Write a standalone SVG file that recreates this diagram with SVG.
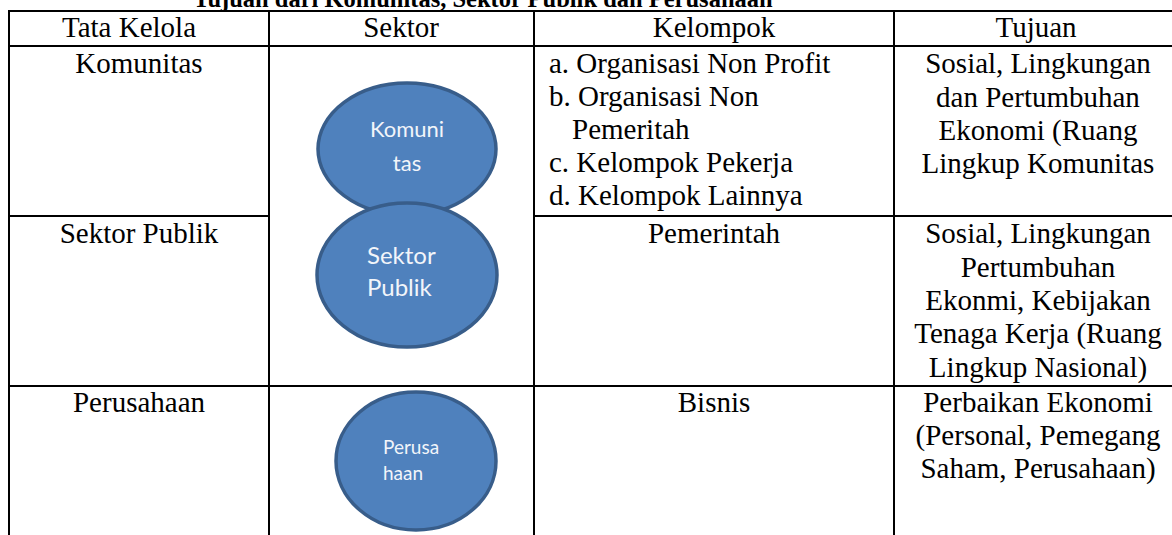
<svg xmlns="http://www.w3.org/2000/svg" width="1172" height="535" viewBox="0 0 1172 535">
<style>
.t{font-family:"Liberation Serif","Times New Roman",serif;font-size:29px;fill:#000}
.c{text-anchor:middle}
.title{font-family:"Liberation Serif","Times New Roman",serif;font-size:24.5px;font-weight:bold;text-anchor:middle;fill:#000}
.grid{stroke:#000;stroke-width:2;fill:none}
.oval{fill:#4f81bd;stroke:#385d8a;stroke-width:3.5}
.ot{font-family:Lato,"Open Sans",sans-serif;fill:#f2f5fa}
</style>
<rect width="1172" height="535" fill="#fff"/>
<text class="title" x="483" y="7">Tujuan dari Komunitas, Sektor Publik dan Perusahaan</text>
<g id="grid" class="grid">
<line x1="9" y1="11" x2="1172" y2="11"/>
<line x1="9" y1="46" x2="1172" y2="46"/>
<line x1="9" y1="216" x2="269" y2="216"/>
<line x1="534" y1="216" x2="1172" y2="216"/>
<line x1="9" y1="386" x2="1172" y2="386"/>
<line x1="9" y1="10" x2="9" y2="535"/>
<line x1="269" y1="10" x2="269" y2="535"/>
<line x1="534" y1="10" x2="534" y2="535"/>
<line x1="894" y1="10" x2="894" y2="535"/>
</g>
<g id="header">
<text class="t c" x="129" y="37">Tata Kelola</text>
<text class="t c" x="401" y="37">Sektor</text>
<text class="t c" x="714" y="37">Kelompok</text>
<text class="t c" x="1036" y="37">Tujuan</text>
</g>
<g id="row-komunitas">
<text class="t c" x="139" y="73">Komunitas</text>
<text class="t" x="549" y="73">a. Organisasi Non Profit</text>
<text class="t" x="549" y="106">b. Organisasi Non</text>
<text class="t" x="572" y="139">Pemeritah</text>
<text class="t" x="549" y="172">c. Kelompok Pekerja</text>
<text class="t" x="549" y="205">d. Kelompok Lainnya</text>
<text class="t c" x="1038" y="73">Sosial, Lingkungan</text>
<text class="t c" x="1038" y="107">dan Pertumbuhan</text>
<text class="t c" x="1038" y="140">Ekonomi (Ruang</text>
<text class="t c" x="1038" y="173">Lingkup Komunitas</text>
</g>
<g id="row-sektor-publik">
<text class="t c" x="139" y="243">Sektor Publik</text>
<text class="t c" x="714" y="243">Pemerintah</text>
<text class="t c" x="1038" y="243">Sosial, Lingkungan</text>
<text class="t c" x="1038" y="277">Pertumbuhan</text>
<text class="t c" x="1038" y="310">Ekonmi, Kebijakan</text>
<text class="t c" x="1038" y="343">Tenaga Kerja (Ruang</text>
<text class="t c" x="1038" y="377">Lingkup Nasional)</text>
</g>
<g id="row-perusahaan">
<text class="t c" x="139" y="412">Perusahaan</text>
<text class="t c" x="714" y="412">Bisnis</text>
<text class="t c" x="1038" y="412">Perbaikan Ekonomi</text>
<text class="t c" x="1038" y="445">(Personal, Pemegang</text>
<text class="t c" x="1038" y="478">Saham, Perusahaan)</text>
</g>
<g id="node-komunitas">
<ellipse class="oval" cx="407" cy="149" rx="89" ry="66"/>
<text class="ot" x="407" y="137" font-size="22" text-anchor="middle">Komuni</text>
<text class="ot" x="407" y="171" font-size="22" text-anchor="middle">tas</text>
</g>
<g id="node-sektor-publik">
<ellipse class="oval" cx="407" cy="275" rx="90" ry="72"/>
<text class="ot" x="367" y="264" font-size="24">Sektor</text>
<text class="ot" x="367" y="296" font-size="24">Publik</text>
</g>
<g id="node-perusahaan">
<ellipse class="oval" cx="416" cy="461" rx="80" ry="69"/>
<text class="ot" x="383" y="454" font-size="19">Perusa</text>
<text class="ot" x="383" y="480" font-size="19">haan</text>
</g>
<g id="connectors"/>
</svg>
